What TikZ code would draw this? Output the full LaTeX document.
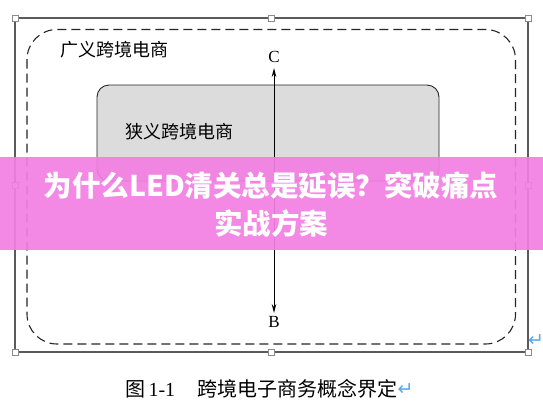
\documentclass[tikz,border=0pt]{standalone}
\usepackage{fontspec}
\setmainfont{Liberation Serif}
\newfontfamily\cjk{Noto Sans CJK SC}
\newfontfamily\symfont{DejaVu Sans}
\usetikzlibrary{arrows.meta}
\definecolor{framegray}{HTML}{5A5A5A}
\definecolor{innergray}{HTML}{DCDCDC}
\definecolor{bannerpink}{HTML}{F27FE2}
\definecolor{markblue}{HTML}{5AA8EE}
\tikzset{
  handle/.style={draw=framegray!70, fill=white, line width=0.5pt, minimum size=6pt, inner sep=0pt, rectangle},
  framebox/.style={draw=framegray, line width=1.4pt},
  dashbox/.style={draw=black!85, line width=1.1pt, dash pattern=on 9pt off 5pt, rounded corners=30pt},
  innerbox/.style={draw=black!85, fill=innergray, line width=0.9pt, rounded corners=12pt},
  cjklabel/.style={font=\cjk\fontsize{18}{20}\selectfont, inner sep=0pt},
  letter/.style={font=\fontsize{17}{20}\selectfont, inner sep=0pt},
  parmark/.style={text=markblue, font=\symfont\fontsize{19}{19}\selectfont, inner sep=0pt}
}
\begin{document}
\begin{tikzpicture}[x=1pt,y=-1pt]
\useasboundingbox (0,0) rectangle (543,408);
\fill[white] (0,0) rectangle (543,408);
% outer frame
\draw[framebox] (15,18) rectangle (528,352);
% dashed rounded box
\draw[dashbox] (27,29.5) rectangle (515.5,344);
% inner box
\draw[innerbox] (97,85) rectangle (439,181);
% labels
\node[cjklabel] (broad) at (114.5,50) {广义跨境电商};
\node[cjklabel] (narrow) at (179,131.5) {狭义跨境电商};
\node[letter] (C) at (274,57) {C};
\node[letter] (B) at (274,322) {B};
\coordinate (top) at (274,68);
\coordinate (bot) at (274,313);
\draw[black, line width=0.9pt, {Stealth[length=9pt,width=4.5pt]}-{Stealth[length=9pt,width=4.5pt]}] (top) -- (bot);
% handles
\foreach \n/\x/\y in {h1/15/18,h2/271/18,h3/528/18,h4/15/185,h5/528/185,h6/15/352,h7/271/352,h8/528/352}
  \node[handle] (\n) at (\x,\y) {};
% paragraph marks
\node[parmark] (pm1) at (536,341) {↵};
% caption
\node[anchor=west, inner sep=0pt, font=\fontsize{20}{22}\selectfont] (cap) at (125,389)
  {{\cjk 图}\,1-1\hspace{22pt}{\cjk 跨境电子商务概念界定}};
\node[parmark, anchor=west] (pm2) at ([xshift=0pt,yshift=-1pt]cap.east) {↵};
% banner
\fill[bannerpink, opacity=0.92] (0,157) rectangle (543,250);
\node[text=white, align=center, font=\cjk\bfseries\fontsize{28.5}{38}\selectfont, inner sep=0pt] (banner) at (271,205)
  {为什么LED清关总是延误？突破痛点\\实战方案};
\end{tikzpicture}
\end{document}
